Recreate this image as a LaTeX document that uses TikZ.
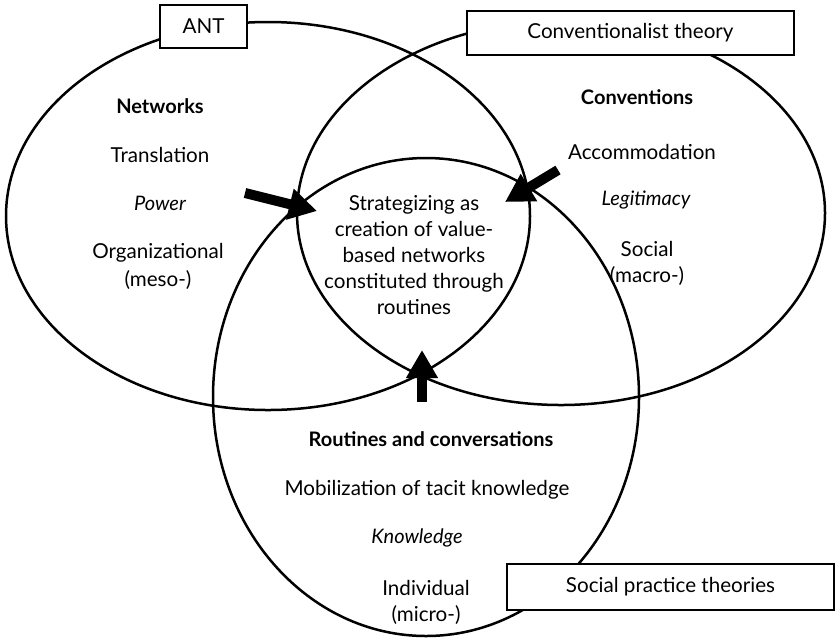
\documentclass[tikz,border=0pt]{standalone}
\usepackage{fontspec}
\setmainfont{Lato}
\usetikzlibrary{arrows.meta}

\begin{document}
\begin{tikzpicture}[x=0.5pt, y=-0.5pt, font=\fontsize{10.3}{13}\selectfont,
    theorybox/.style={draw, fill=white, line width=1pt, inner sep=0pt},
    bigarrow/.style={line width=5pt, -{Triangle[width=15pt,length=14pt]}}]
  \useasboundingbox (0,0) rectangle (838,638);
  % the three fields
  \coordinate (ant)  at (268,216);
  \coordinate (conv) at (561,213);
  \coordinate (prac) at (426,397);
  \draw[line width=1.25pt] (ant)  ellipse [x radius=262, y radius=194];
  \draw[line width=1.25pt] (conv) ellipse [x radius=264, y radius=192];
  \draw[line width=1.25pt] (prac) ellipse [x radius=213, y radius=239];
  % theory labels on the rims
  \node[theorybox, minimum width=43.5pt, minimum height=21.5pt] (antbox)  at (203.5,26.5) {ANT};
  \node[theorybox, minimum width=163.5pt, minimum height=22pt]  (convbox) at (630.5,33)   {Conventionalist theory};
  \node[theorybox, minimum width=163.5pt, minimum height=23pt]  (pracbox) at (670.5,587)  {Social practice theories};
  % contents of each field
  \foreach \nm/\px/\py/\txt in {
    net/160/106/Networks,
    cnv/637/97/Conventions,
    rout/431/439/Routines and conversations
  }{
    \node[font=\bfseries, inner sep=0pt] (\nm) at (\px,\py) {\txt};
  }
  \foreach \nm/\px/\py/\txt in {
    power/160/203/Power,
    legit/646/200/Legitimacy,
    know/417/538/Knowledge
  }{
    \node[font=\itshape, inner sep=0pt] (\nm) at (\px,\py) {\txt};
  }
  \foreach \nm/\px/\py/\txt in {
    transl/160/155/Translation,
    orga/158/253/Organizational,
    meso/158/280/(meso-),
    accom/642/152/Accommodation,
    soc/647/249/Social,
    macro/647/276/(macro-),
    mobil/427/490/Mobilization of tacit knowledge,
    indiv/426/588/Individual,
    micro/426/615/(micro-)
  }{
    \node[inner sep=0pt] (\nm) at (\px,\py) {\txt};
  }
  \node[align=center, inner sep=0pt] (core) at (414,255)
    {Strategizing as\\creation of value-\\based networks\\constituted through\\routines};
  % arrows into the core
  \coordinate (tailL) at (245,193);
  \coordinate (tipL)  at (317,211);
  \coordinate (tailR) at (558,170);
  \coordinate (tipR)  at (505,202);
  \coordinate (tailB) at (422,402);
  \coordinate (tipB)  at (422,350);
  \draw[bigarrow] (tailL) -- (tipL);
  \draw[bigarrow] (tailR) -- (tipR);
  \draw[bigarrow] (tailB) -- (tipB);
\end{tikzpicture}
\end{document}
